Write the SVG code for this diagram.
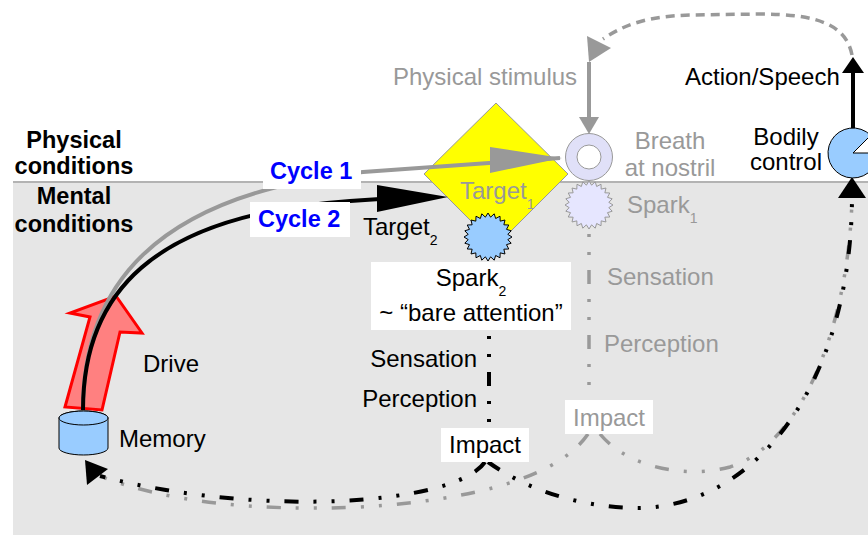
<svg xmlns="http://www.w3.org/2000/svg" width="868" height="535" viewBox="0 0 868 535">
<defs>
<style>
text{font-family:"Liberation Sans",Arial,Helvetica,sans-serif;font-size:24px;fill:#000}
.b{font-weight:bold;font-size:23.5px}
.gt{fill:#999}
.bl{fill:#0000ff}
.sub{font-size:14px}
.box{fill:#fff}
.dd{fill:none;stroke-dasharray:14 15 3 15 3 15}
.dk{stroke:#000;stroke-width:4}
.dg{stroke:#999;stroke-width:3.5}
.ahk{fill:#000}
.ahg{fill:#999}
.lg{stroke:#999;stroke-width:4;fill:none}
.lk{stroke:#000;stroke-width:4;fill:none}
</style>
<polygon id="star" points="24,0 19.83,2.61 23.18,6.21 18.48,7.65 20.78,12 15.87,12.18 16.97,16.97 12.18,15.87 12,20.78 7.65,18.48 6.21,23.18 2.61,19.83 0,24 -2.61,19.83 -6.21,23.18 -7.65,18.48 -12,20.78 -12.18,15.87 -16.97,16.97 -15.87,12.18 -20.78,12 -18.48,7.65 -23.18,6.21 -19.83,2.61 -24,0 -19.83,-2.61 -23.18,-6.21 -18.48,-7.65 -20.78,-12 -15.87,-12.18 -16.97,-16.97 -12.18,-15.87 -12,-20.78 -7.65,-18.48 -6.21,-23.18 -2.61,-19.83 0,-24 2.61,-19.83 6.21,-23.18 7.65,-18.48 12,-20.78 12.18,-15.87 16.97,-16.97 15.87,-12.18 20.78,-12 18.48,-7.65 23.18,-6.21 19.83,-2.61"/>
</defs>

<g id="background">
<rect x="0" y="0" width="868" height="535" fill="#fff"/>
<rect x="13" y="182" width="855" height="353" fill="#e6e6e6"/>
<line x1="13" y1="182" x2="868" y2="182" stroke="#b3b3b3" stroke-width="2"/>
<text class="b" x="74" y="148" text-anchor="middle">Physical</text>
<text class="b" x="74" y="174" text-anchor="middle">conditions</text>
<text class="b" x="74" y="204" text-anchor="middle">Mental</text>
<text class="b" x="74" y="232" text-anchor="middle">conditions</text>
</g>

<g id="drive">
<polygon points="65,407 90,317 70,313 116,296 142,333 120,332 102,410" fill="#ff8080" stroke="#ff0000" stroke-width="3"/>
<text x="143" y="372">Drive</text>
</g>

<g id="target1">
<polygon points="496,103 568,174 496,246 424,174" fill="#ffff00" stroke="#999" stroke-width="1"/>
<text class="gt" x="460" y="199">Target<tspan class="sub" dy="10">1</tspan></text>
</g>

<g id="connectors">
<path class="lg" d="M83,410 C83,290 150,195 363,172 Q470,164 560,158"/>
<polygon class="ahg" points="490,147 490,173 562,158"/>
<path class="lk" d="M83,410 C83,295 150,215 350,201 L380,199"/>
<polygon class="ahk" points="377,185 377,212 448,197"/>
<line class="lg" x1="589" y1="62" x2="589" y2="119"/>
<polygon class="ahg" points="579,117 599,117 589,134"/>
<path d="M852,55 C846,24 816,14 760,14 L690,15 C652,16 626,23 603,39" fill="none" stroke="#999" stroke-width="3.5" stroke-dasharray="9 6"/>
<polygon class="ahg" points="587,36 611,48 589,62"/>
<line class="lk" x1="853" y1="128" x2="853" y2="72"/>
<polygon class="ahk" points="853,57 842,73 864,73"/>
<path class="dd dg" d="M589,228 V400" stroke-dashoffset="23"/>
<path class="dd dg" d="M588,434 C560,475 480,500 360,507 C250,512 160,500 100,476"/>
<path class="dd dg" d="M600,434 C630,470 690,478 730,467 C800,445 848,330 852,200"/>
<path class="dd dk" d="M489,330 V428" stroke-dashoffset="23"/>
<path class="dd dk" d="M485,462 C455,505 260,518 100,476"/>
<path class="dd dk" d="M488,462 C530,492 585,508 640,508 C760,505 850,380 852,200"/>
<polygon class="ahk" points="85,460 108,469 87,485"/>
<polygon class="ahk" points="852,177 838,198 866,198"/>
</g>

<g id="cycle-labels">
<rect class="box" x="263" y="154" width="98" height="35"/>
<text class="b bl" x="270" y="179">Cycle 1</text>
<rect class="box" x="250" y="202" width="100" height="35"/>
<text class="b bl" x="258" y="227">Cycle 2</text>
</g>

<g id="memory">
<path d="M59,418 V448 A24.5,7 0 0 0 108,448 V418 A24.5,7 0 0 0 59,418 Z" fill="#99ccff" stroke="#000" stroke-width="1"/>
<ellipse cx="83.5" cy="418" rx="24.5" ry="7" fill="#99ccff" stroke="#000" stroke-width="1"/>
<text x="119" y="447">Memory</text>
</g>

<g id="target2">
<text x="363" y="235">Target<tspan class="sub" dy="10">2</tspan></text>
</g>

<g id="spark2">
<use href="#star" transform="translate(488,237)" fill="#99ccff" stroke="#000" stroke-width="1"/>
<rect class="box" x="371" y="262" width="200" height="68"/>
<text x="471" y="286" text-anchor="middle">Spark<tspan class="sub" dy="10">2</tspan></text>
<text x="471" y="321" text-anchor="middle">~ “bare attention”</text>
</g>

<g id="cycle2-steps">
<text x="477" y="367" text-anchor="end">Sensation</text>
<text x="477" y="407" text-anchor="end">Perception</text>
</g>

<g id="impact2">
<rect class="box" x="441" y="428" width="88" height="34"/>
<text x="485" y="453" text-anchor="middle">Impact</text>
</g>

<g id="stimulus">
<text class="gt" x="393" y="85">Physical stimulus</text>
</g>

<g id="breath">
<circle cx="589" cy="157" r="23.5" fill="#e0e0f8" stroke="#999" stroke-width="1"/>
<circle cx="589" cy="157" r="12" fill="#fff" stroke="#999" stroke-width="1"/>
<text class="gt" x="670" y="149" text-anchor="middle">Breath</text>
<text class="gt" x="670" y="176" text-anchor="middle">at nostril</text>
</g>

<g id="spark1">
<use href="#star" transform="translate(589,205)" fill="#e6e6ff" stroke="#999" stroke-width="1"/>
<text class="gt" x="627" y="213">Spark<tspan class="sub" dy="10">1</tspan></text>
</g>

<g id="cycle1-steps">
<text class="gt" x="607" y="285">Sensation</text>
<text class="gt" x="604" y="352">Perception</text>
</g>

<g id="impact1">
<rect class="box" x="565" y="400" width="88" height="34"/>
<text class="gt" x="609" y="426" text-anchor="middle">Impact</text>
</g>

<g id="bodily">
<path d="M853,153 L878,153 A25,25 0 1 1 870.68,135.32 Z" fill="#99ccff" stroke="#000" stroke-width="1"/>
<text x="786" y="145" text-anchor="middle">Bodily</text>
<text x="786" y="170" text-anchor="middle">control</text>
</g>

<g id="action">
<text x="685" y="85">Action/Speech</text>
</g>
</svg>
